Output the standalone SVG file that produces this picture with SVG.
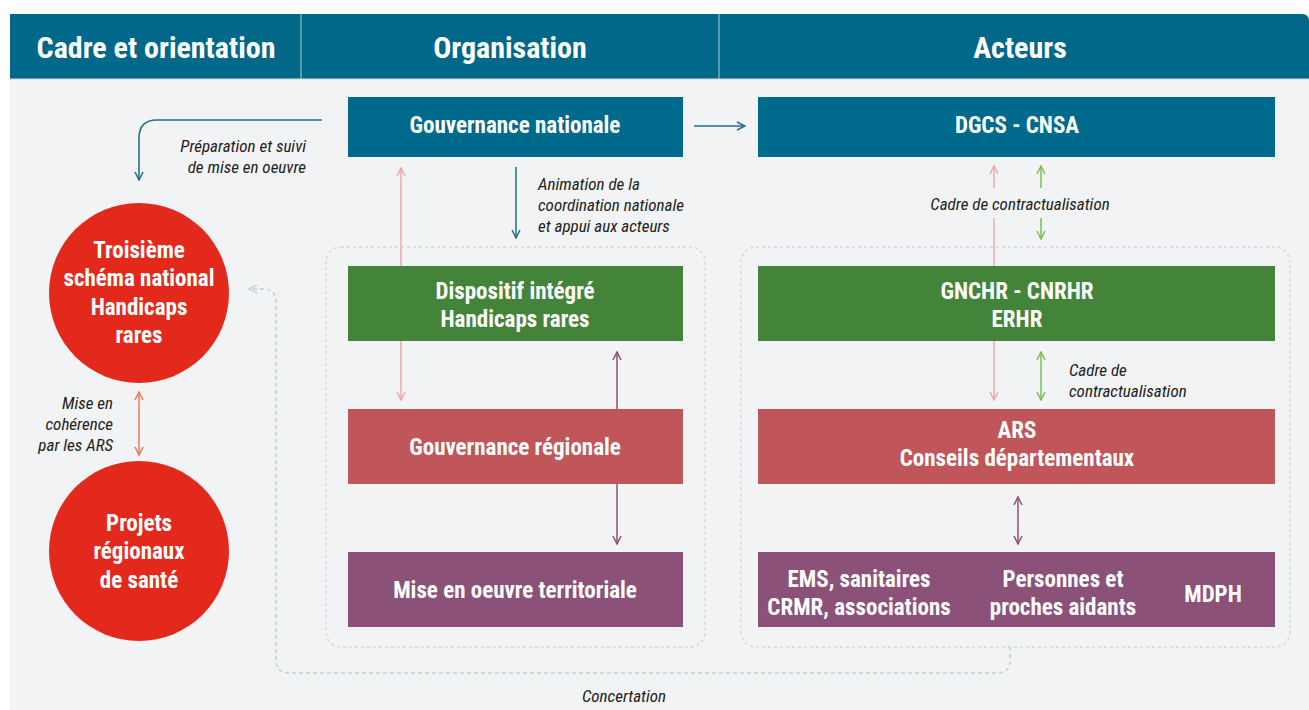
<svg xmlns="http://www.w3.org/2000/svg" width="1309" height="710" viewBox="0 0 1309 710">
  <defs>
    <style>
      .hd { font-family: "Liberation Sans Narrow", "Roboto Condensed", Roboto, sans-serif; font-weight: bold; font-size: 30px; fill: #fff; text-anchor: middle; }
      .bx { font-family: "Liberation Sans Narrow", "Roboto Condensed", Roboto, sans-serif; font-weight: bold; font-size: 23px; fill: #fff; text-anchor: middle; }
      .lb { font-family: "Liberation Sans Narrow", "Roboto Condensed", Roboto, sans-serif; font-style: italic; font-size: 17px; fill: #1d1d1b; }
      .blue { fill: #006a8d; }
      .green { fill: #44843a; }
      .red { fill: #c0555a; }
      .purple { fill: #8c5179; }
      .circ { fill: #e2291b; }
      .grp { fill: none; stroke: #d3d8db; stroke-width: 1.5; stroke-dasharray: 3 3; }
      .ln { fill: none; stroke-width: 1.5; }
    </style>
    <marker id="ahBlue" viewBox="0 0 10 10" refX="9" refY="5" markerWidth="10" markerHeight="10" markerUnits="userSpaceOnUse" orient="auto-start-reverse">
      <path d="M1,1 L9,5 L1,9" fill="none" stroke="#1d6f8f" stroke-width="1.5"/>
    </marker>
    <marker id="ahPink" viewBox="0 0 10 10" refX="9" refY="5" markerWidth="10" markerHeight="10" markerUnits="userSpaceOnUse" orient="auto-start-reverse">
      <path d="M1,1 L9,5 L1,9" fill="none" stroke="#f2a7a7" stroke-width="1.5"/>
    </marker>
    <marker id="ahGreen" viewBox="0 0 10 10" refX="9" refY="5" markerWidth="10" markerHeight="10" markerUnits="userSpaceOnUse" orient="auto-start-reverse">
      <path d="M1,1 L9,5 L1,9" fill="none" stroke="#7cbf4a" stroke-width="1.5"/>
    </marker>
    <marker id="ahPurple" viewBox="0 0 10 10" refX="9" refY="5" markerWidth="10" markerHeight="10" markerUnits="userSpaceOnUse" orient="auto-start-reverse">
      <path d="M1,1 L9,5 L1,9" fill="none" stroke="#8c5179" stroke-width="1.5"/>
    </marker>
    <marker id="ahOrange" viewBox="0 0 10 10" refX="9" refY="5" markerWidth="10" markerHeight="10" markerUnits="userSpaceOnUse" orient="auto-start-reverse">
      <path d="M1,1 L9,5 L1,9" fill="none" stroke="#ea7a52" stroke-width="1.5"/>
    </marker>
    <marker id="ahGrey" viewBox="0 0 10 10" refX="9" refY="5" markerWidth="10" markerHeight="10" markerUnits="userSpaceOnUse" orient="auto-start-reverse">
      <path d="M1,1 L9,5 L1,9" fill="none" stroke="#c3d1d4" stroke-width="1.5"/>
    </marker>
  </defs>

  <!-- page -->
  <rect x="0" y="0" width="1309" height="710" fill="#ffffff"/>
  <rect x="10" y="79" width="1299" height="631" fill="#f2f3f5"/>

  <!-- column headers -->
  <g id="header">
    <path d="M10,14 H1302 Q1309,14 1309,21 V79 H10 Z" fill="#02688a"/>
    <line x1="301" y1="14" x2="301" y2="79" stroke="#a9c9d6" stroke-width="1"/>
    <line x1="719" y1="14" x2="719" y2="79" stroke="#a9c9d6" stroke-width="1"/>
    <line x1="10" y1="79" x2="1309" y2="79" stroke="#c8dbe2" stroke-width="1"/>
    <text class="hd" x="156" y="58">Cadre et orientation</text>
    <text class="hd" x="510" y="58">Organisation</text>
    <text class="hd" x="1020" y="58">Acteurs</text>
  </g>

  <!-- dotted groupings -->
  <g id="groups">
    <rect class="grp" x="326" y="247" width="379" height="400" rx="15"/>
    <rect class="grp" x="741" y="247" width="549" height="400" rx="15"/>
  </g>

  <!-- connectors -->
  <g id="connectors">
    <path class="ln" stroke="#1d6f8f" d="M322,120 H157 Q139,120 139,138 V180" marker-end="url(#ahBlue)"/>
    <line class="ln" stroke="#1d6f8f" x1="694" y1="126" x2="745" y2="126" marker-end="url(#ahBlue)"/>
    <line class="ln" stroke="#1d6f8f" x1="516" y1="167" x2="516" y2="238" marker-end="url(#ahBlue)"/>

    <line class="ln" stroke="#f2a7a7" x1="401" y1="266" x2="401" y2="168" marker-end="url(#ahPink)"/>
    <line class="ln" stroke="#f2a7a7" x1="401" y1="341" x2="401" y2="400" marker-end="url(#ahPink)"/>

    <line class="ln" stroke="#8c5179" x1="617" y1="409" x2="617" y2="352" marker-end="url(#ahPurple)"/>
    <line class="ln" stroke="#8c5179" x1="617" y1="484" x2="617" y2="544" marker-end="url(#ahPurple)"/>

    <line class="ln" stroke="#f2a7a7" x1="994" y1="188" x2="994" y2="166" marker-end="url(#ahPink)"/>
    <line class="ln" stroke="#f2a7a7" x1="994" y1="218" x2="994" y2="266"/>
    <line class="ln" stroke="#f2a7a7" x1="994" y1="341" x2="994" y2="400" marker-end="url(#ahPink)"/>

    <line class="ln" stroke="#7cbf4a" x1="1041" y1="188" x2="1041" y2="166" marker-end="url(#ahGreen)"/>
    <line class="ln" stroke="#7cbf4a" x1="1041" y1="218" x2="1041" y2="239" marker-end="url(#ahGreen)"/>
    <line class="ln" stroke="#7cbf4a" x1="1041" y1="352" x2="1041" y2="400" marker-start="url(#ahGreen)" marker-end="url(#ahGreen)"/>

    <line class="ln" stroke="#8c5179" x1="1018" y1="497" x2="1018" y2="544" marker-start="url(#ahPurple)" marker-end="url(#ahPurple)"/>

    <line class="ln" stroke="#ea7a52" x1="139" y1="392" x2="139" y2="455" marker-start="url(#ahOrange)" marker-end="url(#ahOrange)"/>

    <path class="ln" stroke="#c3d1d4" stroke-dasharray="4 3" d="M1010,647 V660 Q1010,673 997,673 H289 Q276,673 276,660 V302 Q276,289 263,289 H249" marker-end="url(#ahGrey)"/>

    <text class="lb" x="306" y="152" text-anchor="end">Préparation et suivi</text>
    <text class="lb" x="306" y="173" text-anchor="end">de mise en oeuvre</text>
    <text class="lb" x="538" y="190">Animation de la</text>
    <text class="lb" x="538" y="211">coordination nationale</text>
    <text class="lb" x="538" y="232">et appui aux acteurs</text>
    <text class="lb" x="1020" y="210" text-anchor="middle">Cadre de contractualisation</text>
    <text class="lb" x="1069" y="376">Cadre de</text>
    <text class="lb" x="1069" y="397">contractualisation</text>
    <text class="lb" x="113" y="409" text-anchor="end">Mise en</text>
    <text class="lb" x="113" y="430" text-anchor="end">cohérence</text>
    <text class="lb" x="113" y="451" text-anchor="end">par les ARS</text>
    <text class="lb" x="624" y="702" text-anchor="middle">Concertation</text>
  </g>

  <!-- orientation circles -->
  <g id="schema-national">
    <circle class="circ" cx="139" cy="293" r="90"/>
    <text class="bx" x="139" y="258">Troisième</text>
    <text class="bx" x="139" y="286">schéma national</text>
    <text class="bx" x="139" y="315">Handicaps</text>
    <text class="bx" x="139" y="343">rares</text>
  </g>
  <g id="projets-regionaux">
    <circle class="circ" cx="139" cy="551" r="90"/>
    <text class="bx" x="139" y="531">Projets</text>
    <text class="bx" x="139" y="559">régionaux</text>
    <text class="bx" x="139" y="588">de santé</text>
  </g>

  <!-- organisation column -->
  <g id="gouvernance-nationale">
    <rect class="blue" x="348" y="97" width="335" height="60"/>
    <text class="bx" x="515" y="133">Gouvernance nationale</text>
  </g>
  <g id="dispositif-integre">
    <rect class="green" x="348" y="266" width="335" height="75"/>
    <text class="bx" x="515" y="299">Dispositif intégré</text>
    <text class="bx" x="515" y="327">Handicaps rares</text>
  </g>
  <g id="gouvernance-regionale">
    <rect class="red" x="348" y="409" width="335" height="75"/>
    <text class="bx" x="515" y="455">Gouvernance régionale</text>
  </g>
  <g id="mise-en-oeuvre">
    <rect class="purple" x="348" y="552" width="335" height="75"/>
    <text class="bx" x="515" y="598">Mise en oeuvre territoriale</text>
  </g>

  <!-- actors column -->
  <g id="dgcs-cnsa">
    <rect class="blue" x="758" y="97" width="517" height="60"/>
    <text class="bx" x="1017" y="133">DGCS - CNSA</text>
  </g>
  <g id="gnchr">
    <rect class="green" x="758" y="266" width="517" height="75"/>
    <text class="bx" x="1017" y="299">GNCHR - CNRHR</text>
    <text class="bx" x="1017" y="327">ERHR</text>
  </g>
  <g id="ars">
    <rect class="red" x="758" y="409" width="517" height="75"/>
    <text class="bx" x="1017" y="438">ARS</text>
    <text class="bx" x="1017" y="466">Conseils départementaux</text>
  </g>
  <g id="acteurs-terrain">
    <rect class="purple" x="758" y="552" width="517" height="75"/>
    <text class="bx" x="859" y="587">EMS, sanitaires</text>
    <text class="bx" x="859" y="615">CRMR, associations</text>
    <text class="bx" x="1063" y="587">Personnes et</text>
    <text class="bx" x="1063" y="615">proches aidants</text>
    <text class="bx" x="1213" y="602">MDPH</text>
  </g>
</svg>
